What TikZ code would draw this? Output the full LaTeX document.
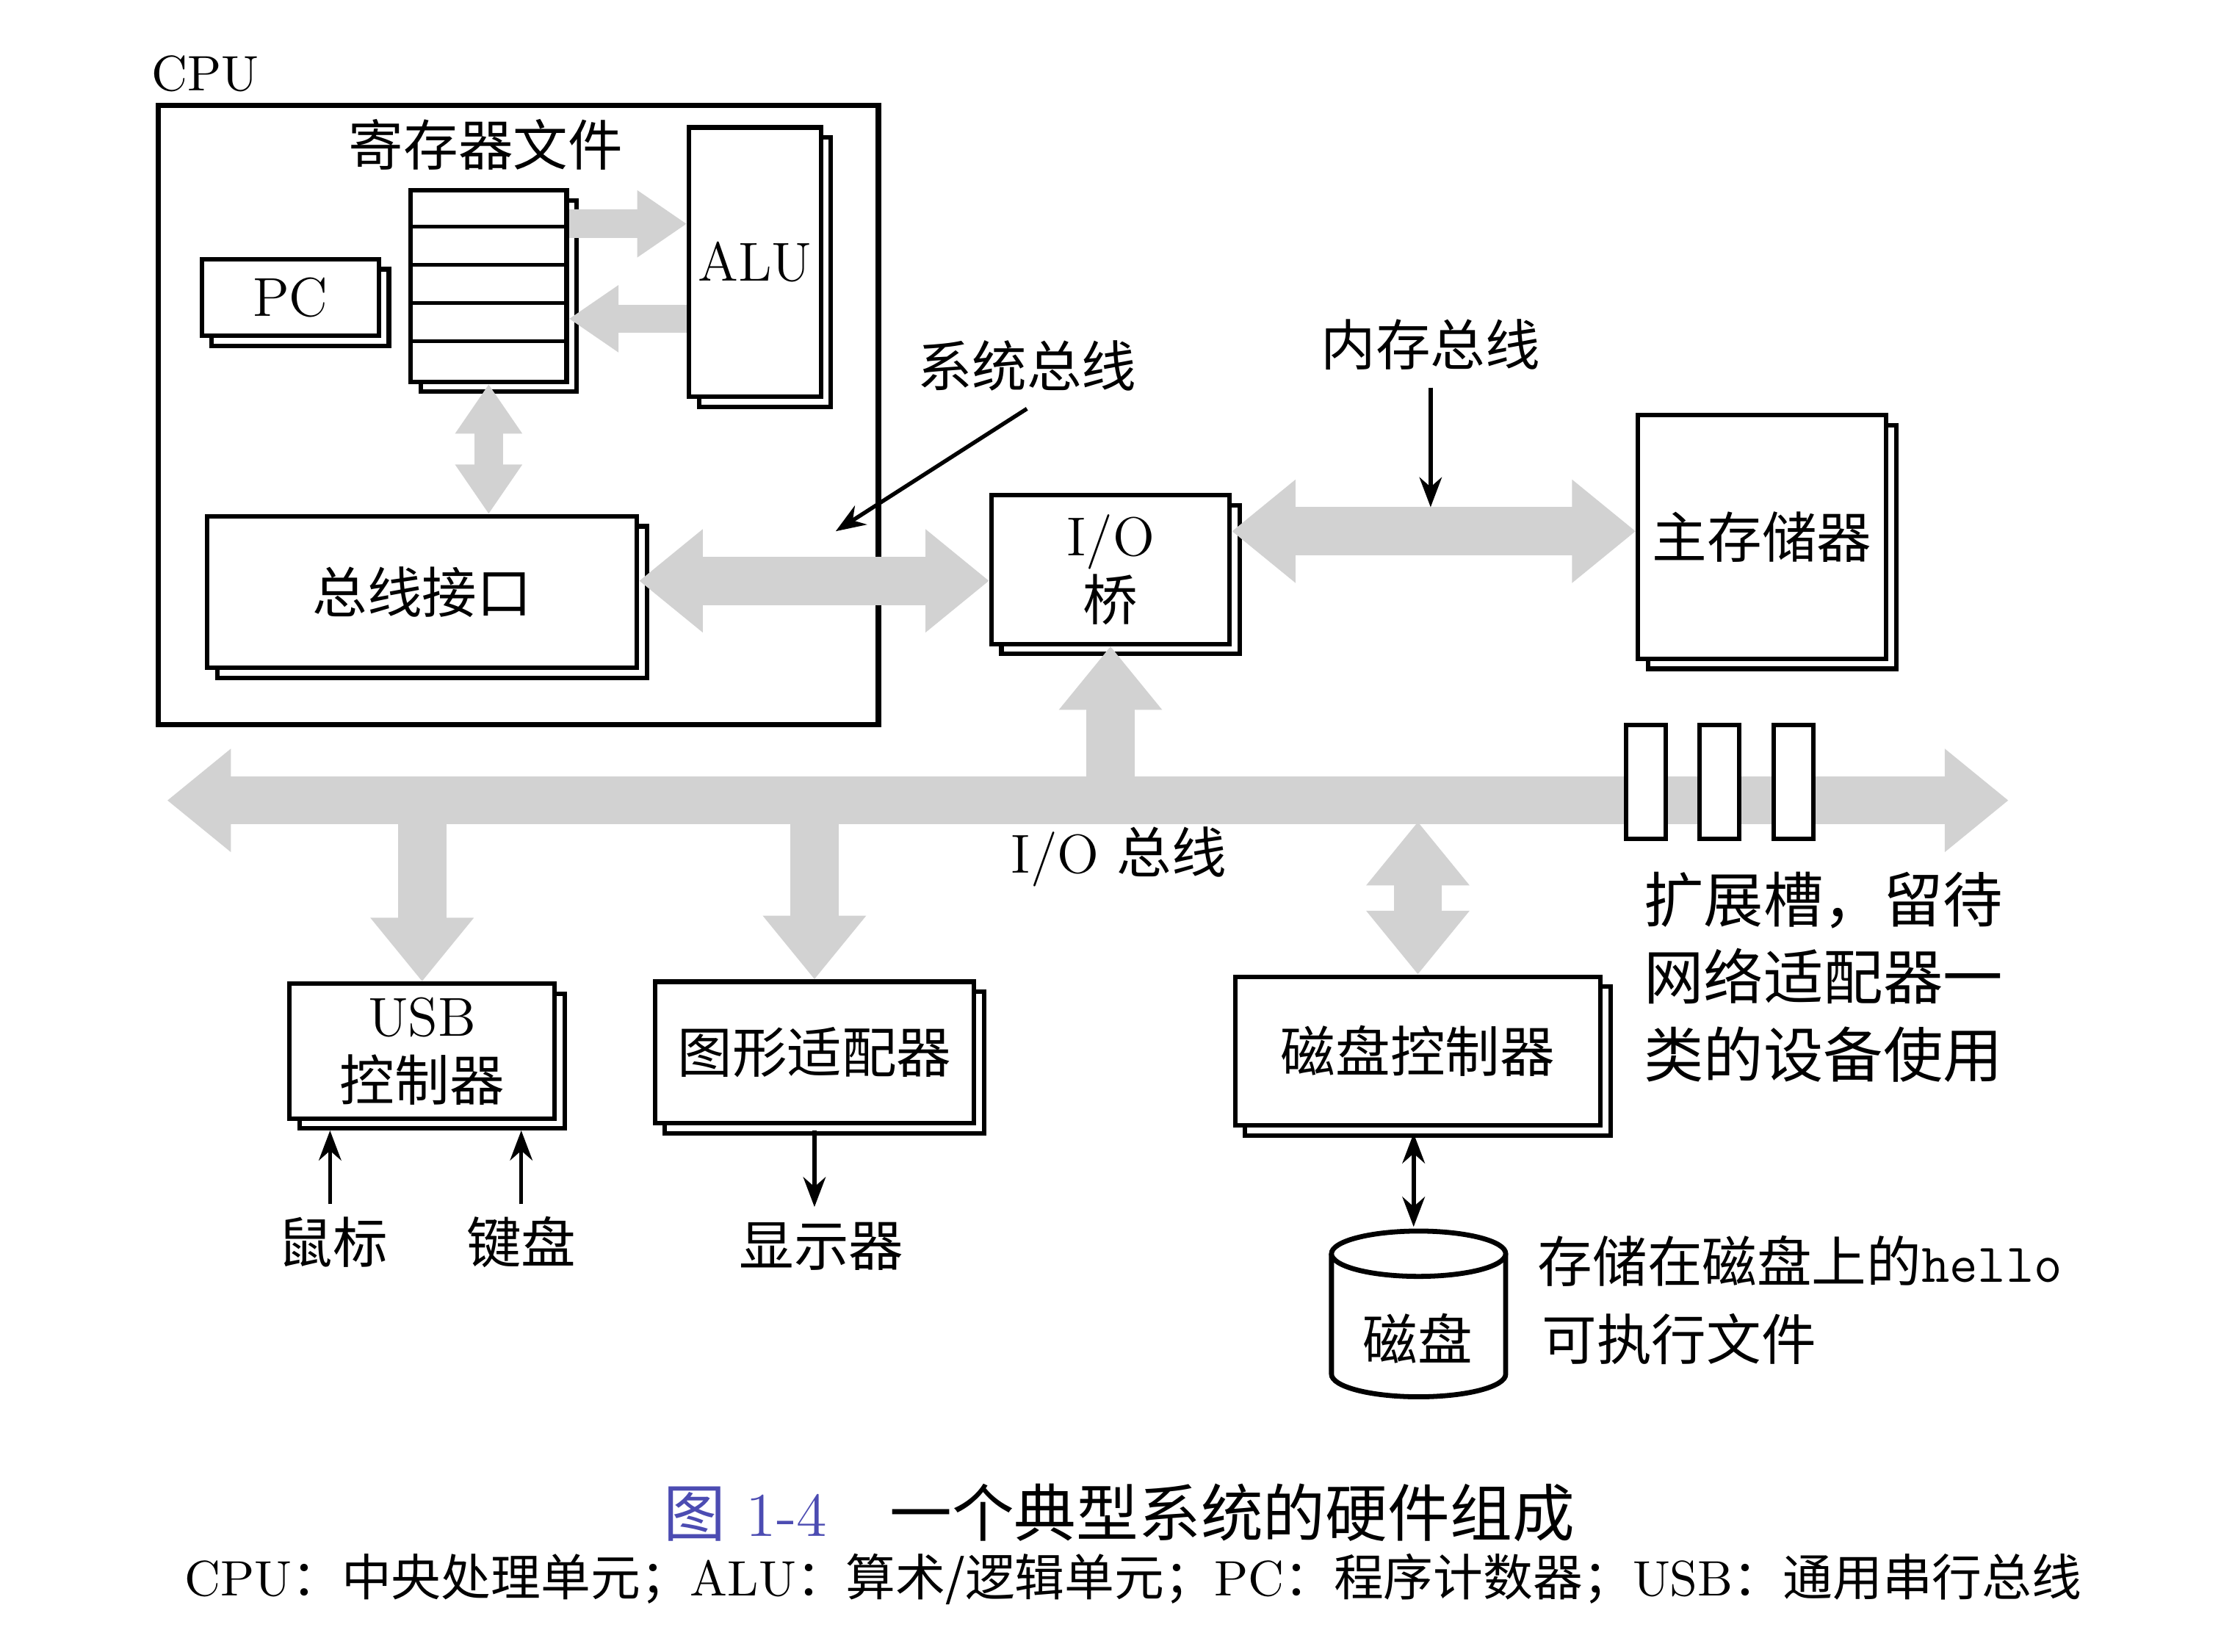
\documentclass[tikz,border=0pt]{standalone}
\usepackage{fontspec}
\newfontfamily\cjk{Noto Sans CJK SC}
\usetikzlibrary{arrows.meta,shadows,calc}
\tikzset{
  box/.style={draw, line width=0.9pt, fill=white, copy shadow={shadow xshift=2pt, shadow yshift=-2pt}, font=\fontsize{11}{13}\selectfont, align=center, inner sep=0pt},
  fat/.style={line width=0.34cm, draw=gray!35, arrows={-Triangle[width=0.7cm,length=0.45cm]}},
  fatd/.style={line width=0.34cm, draw=gray!35, arrows={Triangle[width=0.7cm,length=0.45cm]-Triangle[width=0.7cm,length=0.45cm]}},
  med/.style={line width=0.2cm, draw=gray!35, arrows={-Triangle[width=0.45cm,length=0.35cm]}},
  medd/.style={line width=0.2cm, draw=gray!35, arrows={Triangle[width=0.45cm,length=0.35cm]-Triangle[width=0.45cm,length=0.35cm]}},
  thin/.style={line width=0.8pt, -{Stealth[length=6pt]}},
  lbl/.style={font=\fontsize{11}{13}\selectfont, align=left, inner sep=0pt}
}
\begin{document}
\begin{tikzpicture}[x=0.01cm,y=-0.01cm]
\useasboundingbox (0,0) rectangle (1568,1166);
% CPU
\node[draw, line width=1.1pt, minimum width=5.08cm, minimum height=4.37cm] (cpu) at (366,293) {};
\node[lbl, font=\fontsize{10}{12}\selectfont] (cpul) at (145,52) {CPU};
\node[lbl] (rfl) at (343,102) {\cjk 寄存器文件};
\node[box, minimum width=1.10cm, minimum height=1.35cm] (rf) at (345,202) {};
\foreach \k in {1,...,4} \draw[line width=0.7pt] ($(rf.north west)+(0,27*\k)$) -- ($(rf.north east)+(0,27*\k)$);
\node[box, minimum width=0.93cm, minimum height=1.90cm] (alu) at (533,185) {ALU};
\node[box, minimum width=1.25cm, minimum height=0.54cm] (pc) at (205,210) {PC};
\node[box, minimum width=3.03cm, minimum height=1.07cm] (bi) at (298,418) {\cjk 总线接口};
\draw[med] (rf.east |- 0,158) -- (alu.west |- 0,158);
\draw[med] (alu.west |- 0,225) -- (rf.east |- 0,225);
\draw[medd] (rf.south) -- (rf.south |- bi.north);
% bridge, memory
\node[box, minimum width=1.68cm, minimum height=1.05cm] (br) at (784,402) {I/O\\{\cjk 桥}};
\node[box, minimum width=1.75cm, minimum height=1.72cm] (mem) at (1244,379) {\cjk 主存储器};
\draw[fatd] (bi.east |- 0,410) -- (br.west |- 0,410);
\draw[fatd] (br.east |- 0,375) -- (mem.west |- 0,375);
\node[lbl] (sbl) at (725,258) {\cjk 系统总线};
\draw[thin] ($(sbl.south)+(0,12)$) -- (590,375);
\node[lbl] (mbl) at (1010,243) {\cjk 内存总线};
\draw[thin] ($(mbl.south)+(0,12)$) -- (1010,358);
% IO bus
\coordinate (busL) at (118,565);
\coordinate (busR) at (1418,565);
\draw[fatd] (busL) -- (busR);
\node[box, minimum width=1.87cm, minimum height=0.95cm] (usb) at (298,742) {USB\\{\cjk 控制器}};
\node[box, minimum width=2.25cm, minimum height=1.00cm] (gr) at (575,743) {\cjk 图形适配器};
\node[box, minimum width=2.58cm, minimum height=1.05cm] (dc) at (1001,742) {\cjk 磁盘控制器};
\draw[fat] (br.south |- busL) -- (br.south);
\draw[fat] (usb.north |- busL) -- (usb.north);
\draw[fat] (gr.north |- busL) -- (gr.north);
\draw[fatd] (dc.north) -- (dc.north |- 0,580);
\foreach \x/\n in {1148/s1,1200/s2,1252/s3}
  \node[draw, line width=0.9pt, fill=white, minimum width=0.28cm, minimum height=0.80cm] (\n) at (\x+14,552) {};
\node[lbl] (iol) at (790,605) {I/O {\cjk 总线}};
\node[lbl, anchor=north west, font=\fontsize{12}{15.5}\selectfont] (slot) at (1160,615) {\cjk 扩展槽，留待\\\cjk 网络适配器一\\\cjk 类的设备使用};
% peripherals
\node[lbl] (mouse) at (235,877) {\cjk 鼠标};
\node[lbl] (kb) at (368,877) {\cjk 键盘};
\node[lbl] (disp) at (580,880) {\cjk 显示器};
\draw[thin] (233,850) -- (233,798);
\draw[thin] (368,850) -- (368,798);
\draw[thin] (575,798) -- (575,852);
% disk
\draw[line width=1pt, fill=white] (940,885) -- (940,970) arc[start angle=180,end angle=0,x radius=61.5,y radius=16] -- (1063,885);
\draw[line width=1pt, fill=white] (1001.5,885) ellipse[x radius=61.5, y radius=16];
\node[lbl] (disk) at (1001,945) {\cjk 磁盘};
\draw[line width=0.9pt, {Stealth[length=6pt]}-{Stealth[length=6pt]}] (998,800) -- (998,866);
\node[lbl, anchor=west] (hello) at (1085,890) {{\cjk 存储在磁盘上的}\texttt{hello}};
\node[lbl, anchor=west] (exe) at (1088,945) {\cjk 可执行文件};
% caption
\node[lbl, font=\fontsize{12.5}{14}\selectfont] (cap) at (790,1068) {{\color{gray!60!blue}\cjk 图}\ {\color{gray!60!blue}1-4}\quad{\cjk 一个典型系统的硬件组成}};
\node[lbl, font=\fontsize{10}{12}\selectfont] (cap2) at (800,1115) {CPU{\cjk ：中央处理单元；}ALU{\cjk ：算术/逻辑单元；}PC{\cjk ：程序计数器；}USB{\cjk ：通用串行总线}};
\end{tikzpicture}
\end{document}
